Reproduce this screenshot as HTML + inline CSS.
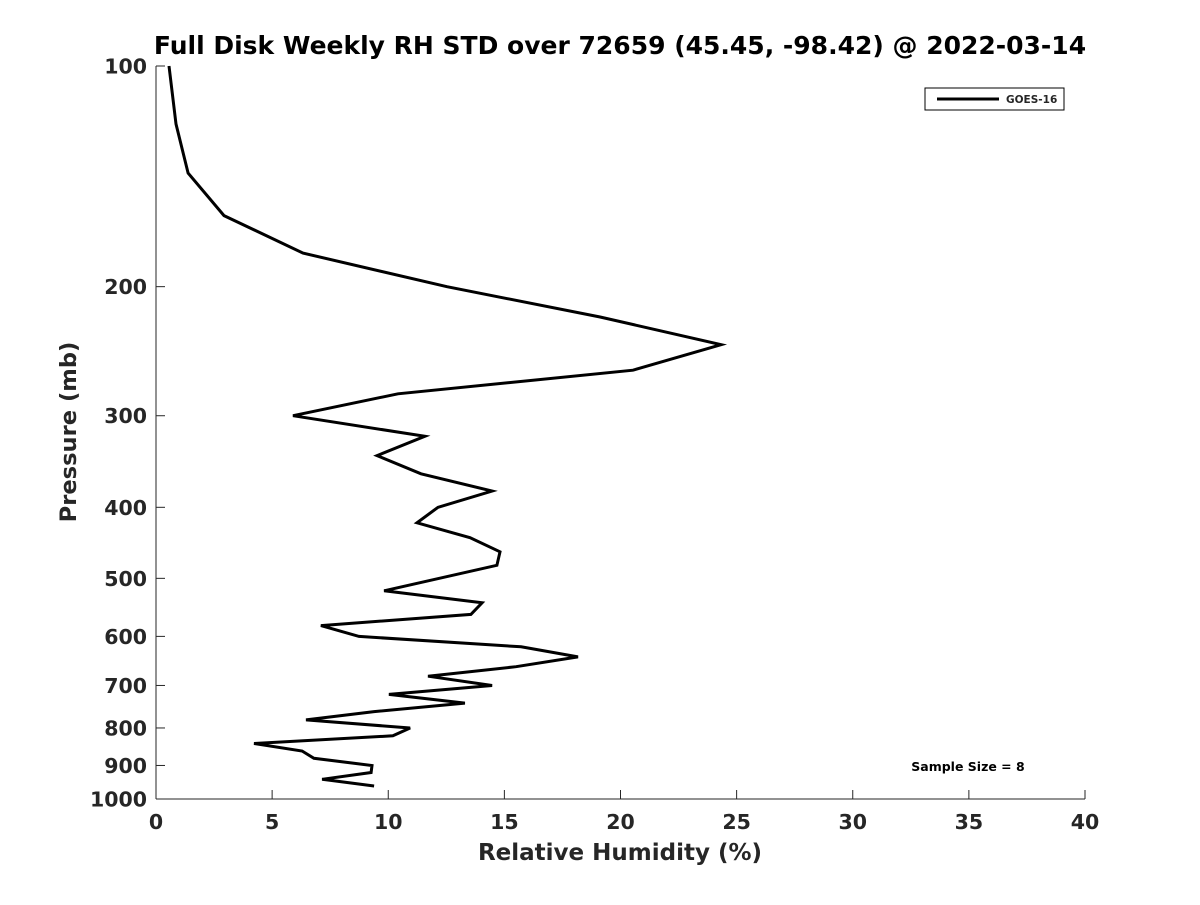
<!DOCTYPE html>
<html><head><meta charset="utf-8"><style>
body{margin:0;background:#fff}
svg text{font-family:"DejaVu Sans","Liberation Sans",sans-serif;font-weight:bold;fill:#262626}
</style></head><body>
<svg id="chart" width="1200" height="900">
<text x="620" y="54" font-size="25" text-anchor="middle" fill="#000" style="fill:#000">Full Disk Weekly RH STD over 72659 (45.45, -98.42) @ 2022-03-14</text>
<g id="axes"></g>
<path id="line" fill="none" stroke="#000" stroke-width="3" stroke-linejoin="miter"></path>
<g>
<rect x="925" y="88" width="139" height="22" fill="#fff" stroke="#000" stroke-width="1"/>
<line x1="937" y1="99" x2="999" y2="99" stroke="#000" stroke-width="3"/>
<text x="1006" y="103" font-size="10.5">GOES-16</text>
</g>
<text x="968" y="771" font-size="12.5" text-anchor="middle" style="fill:#000">Sample Size = 8</text>
<text x="620" y="860" font-size="23" text-anchor="middle">Relative Humidity (%)</text>
<text transform="translate(76,432) rotate(-90)" font-size="22.6" text-anchor="middle">Pressure (mb)</text>
</svg>
<script>
const xTicks=[0,5,10,15,20,25,30,35,40];
const yTicks=[100,200,300,400,500,600,700,800,900,1000];
const rh=[0.56,0.86,1.38,2.93,6.33,12.53,19.12,24.33,20.54,10.42,5.9,11.58,9.52,11.41,14.47,12.14,11.24,13.52,14.81,14.68,9.82,14.04,13.56,7.1,8.74,15.72,18.17,15.5,11.71,14.47,10.03,13.3,9.39,6.46,10.94,10.2,4.22,6.29,6.8,9.3,9.26,7.15,9.39];
const pres=[100,120,140,160,180,200,220,240,260,280,300,320,340,360,380,400,420,440,460,480,520,540,560,580,600,620,640,660,680,700,720,740,760,780,800,820,840,860,880,900,920,940,960];
const X0=156,X1=1085,Y0=66,Y1=799;
const xs=v=>X0+(v-0)/(40-0)*(X1-X0);
const ys=p=>Y0+Math.log10(p/100)*(Y1-Y0);
const NS="http://www.w3.org/2000/svg";
const ax=document.getElementById('axes');
function mk(t,a){const e=document.createElementNS(NS,t);for(const k in a)e.setAttribute(k,a[k]);ax.appendChild(e);return e;}
let e=mk('line',{x1:X0,y1:Y1,x2:X1,y2:Y1,stroke:'#262626','stroke-width':1});


e=mk('line',{x1:X0,y1:Y0,x2:X0,y2:Y1,stroke:'#262626','stroke-width':1});


xTicks.forEach(v=>{
 const x=xs(v);
 let t=mk('line',{x1:x,y1:Y1,x2:x,y2:Y1-9,stroke:'#262626'});
 
 
 let l=mk('text',{x:x,y:Y1+30,'font-size':20.5,'text-anchor':'middle'});l.textContent=v;
 
 
});
yTicks.forEach(v=>{
 const y=ys(v);
 let t=mk('line',{x1:X0,y1:y,x2:X0+9,y2:y,stroke:'#262626'});
 
 
 let l=mk('text',{x:X0-9,y:y+7.5,'font-size':20.5,'text-anchor':'end'});l.textContent=v;
 
 
});
document.getElementById('line').setAttribute('d',rh.map((v,i)=>(i?'L':'M')+xs(v).toFixed(1)+','+ys(pres[i]).toFixed(1)).join(''));
</script>
</body></html>
